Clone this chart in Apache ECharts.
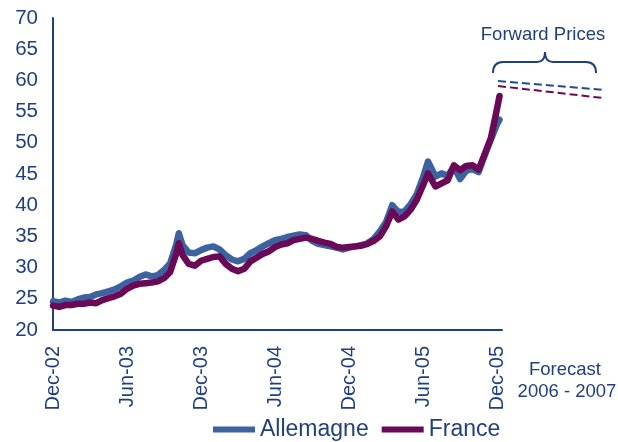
<!DOCTYPE html>
<html><head><meta charset="utf-8">
<script src="https://cdn.jsdelivr.net/npm/echarts@6/dist/echarts.min.js"></script>
<style>html,body{margin:0;padding:0;background:#fff}#c{width:618px;height:442px}</style>
</head><body><div id="c"></div>
<script>
// months since Dec-02
const months = [0,0.5,1,1.5,2,2.5,3,3.5,4,4.5,5,5.5,6,6.5,7,7.5,8,8.5,9,9.5,10,10.2,
  10.5,11,11.5,12,12.5,13,13.5,14,14.5,15,15.5,16,16.5,17,17.5,18,18.5,19,19.5,20,
  20.5,21,21.5,22,22.5,23,23.5,24,24.5,25,25.5,26,26.5,27,27.5,28,28.5,29,29.5,30,30.4,
  31,31.5,32,32.5,33,33.5,34,34.5,35,35.5,36,36.2];
const allemagne = [24.6,24.4,24.7,24.5,24.9,25.2,25.3,25.7,25.9,26.2,26.5,27.0,27.6,27.9,28.5,28.9,28.6,28.8,29.6,30.7,33.8,35.5,
  33.6,32.4,32.3,32.8,33.2,33.4,32.9,32.0,31.3,31.0,
  31.4,32.3,32.8,33.4,33.9,34.4,34.6,34.9,35.1,35.3,
  35.2,34.3,33.8,33.6,33.4,33.2,32.9,33.2,33.4,33.6,
  33.9,34.6,35.8,37.3,40.0,38.9,39.0,40.2,41.8,44.5,47.0,
  44.6,45.1,44.7,46.2,44.2,45.5,45.8,45.3,48.0,50.5,53.0,53.7];
const france = [23.9,23.7,24.0,24.0,24.2,24.2,24.4,24.3,24.8,25.1,25.4,25.8,26.6,27.1,27.4,27.5,27.6,27.8,28.3,29.3,32.3,33.9,
  32.0,30.6,30.3,31.1,31.4,31.7,31.8,30.6,29.8,29.4,
  29.8,31.0,31.6,32.2,32.6,33.3,33.7,33.9,34.4,34.6,
  34.8,34.6,34.3,34.0,33.8,33.3,33.2,33.3,33.4,33.5,
  33.8,34.3,35.0,36.6,39.0,37.7,38.2,39.3,40.9,43.2,45.1,
  43.0,43.5,44.0,46.4,45.6,46.3,46.4,45.7,48.2,50.8,55.5,57.5];
const tickLabels = ['Dec-02','Jun-03','Dec-03','Jun-04','Dec-04','Jun-05','Dec-05'];
const forwardSteps = [0, 1];
const forwardAllemagne = [59.9, 58.5];
const forwardFrance = [59.1, 57.2];

const TXT = '#1F3F7F';
const BLUE = '#3D62A0';
const PURPLE = '#6A0A57';
const FONT = 'Liberation Sans, Arial, sans-serif';

const pairs = (xs, ys) => xs.map((x, i) => [x, ys[i]]);
const braceStyle = {stroke: TXT, lineWidth: 2, fill: null};
const bez = (x1, y1, cx, cy, x2, y2) => ({type: 'bezierCurve', shape: {x1, y1, x2, y2, cpx1: cx, cpy1: cy}, style: braceStyle});
const seg = (x1, y1, x2, y2) => ({type: 'line', shape: {x1, y1, x2, y2}, style: braceStyle});

const chart = echarts.init(document.getElementById('c'), null, {renderer: 'canvas'});
chart.setOption({
  animation: false,
  backgroundColor: '#fff',
  textStyle: {fontFamily: FONT},
  grid: [
    {left: 53, right: 116, top: 18, bottom: 112, containLabel: false},
    {left: 498, right: 16, top: 18, bottom: 112, containLabel: false}
  ],
  xAxis: [
    {type: 'value', gridIndex: 0, min: 0, max: 36.4, interval: 6,
     axisLine: {lineStyle: {color: TXT, width: 2}},
     axisTick: {show: false}, splitLine: {show: false},
     axisLabel: {rotate: 90, margin: 16, color: TXT, fontSize: 20, fontFamily: FONT,
       showMaxLabel: false,
       formatter: v => (v % 6 === 0 && tickLabels[v / 6]) ? tickLabels[v / 6] : ''}},
    {type: 'value', gridIndex: 1, min: 0, max: 1, show: false}
  ],
  yAxis: [
    {type: 'value', gridIndex: 0, min: 20, max: 70, interval: 5,
     axisLine: {show: true, lineStyle: {color: TXT, width: 2}},
     axisTick: {show: false}, splitLine: {show: false},
     axisLabel: {color: TXT, fontSize: 20.5, margin: 15, fontFamily: FONT}},
    {type: 'value', gridIndex: 1, min: 20, max: 70, show: false}
  ],
  legend: {
    data: ['Allemagne', 'France'],
    left: 213, top: 418, padding: 0,
    icon: 'rect', itemWidth: 42, itemHeight: 6, itemGap: 13,
    textStyle: {color: TXT, fontSize: 23, fontFamily: FONT}
  },
  series: [
    {name: 'Allemagne', type: 'line', xAxisIndex: 0, yAxisIndex: 0,
     data: pairs(months, allemagne), showSymbol: false, smooth: false,
     color: BLUE, lineStyle: {width: 6.5, color: BLUE, cap: 'round', join: 'round'}},
    {name: 'France', type: 'line', xAxisIndex: 0, yAxisIndex: 0,
     data: pairs(months, france), showSymbol: false, smooth: false,
     color: PURPLE, lineStyle: {width: 6.5, color: PURPLE, cap: 'round', join: 'round'}},
    {name: 'Forward Allemagne', type: 'line', xAxisIndex: 1, yAxisIndex: 1,
     data: pairs(forwardSteps, forwardAllemagne), showSymbol: false,
     lineStyle: {width: 2, color: '#1F4E8C', type: [8, 4]}},
    {name: 'Forward France', type: 'line', xAxisIndex: 1, yAxisIndex: 1,
     data: pairs(forwardSteps, forwardFrance), showSymbol: false,
     lineStyle: {width: 2, color: PURPLE, type: [8, 4]}}
  ],
  graphic: [
    bez(493, 73, 493, 62, 503, 62),
    seg(503, 62, 537, 62),
    bez(537, 62, 545, 62, 545, 52),
    bez(545, 52, 545, 62, 553, 62),
    seg(553, 62, 586, 62),
    bez(586, 62, 596, 62, 596, 73),
    {type: 'text', x: 543, y: 35, style: {text: 'Forward Prices', fill: TXT, font: '18.5px ' + FONT, textAlign: 'center', textVerticalAlign: 'middle'}},
    {type: 'text', x: 565, y: 370, style: {text: 'Forecast', fill: TXT, font: '18.5px ' + FONT, textAlign: 'center', textVerticalAlign: 'middle'}},
    {type: 'text', x: 567, y: 392, style: {text: '2006 - 2007', fill: TXT, font: '18.5px ' + FONT, textAlign: 'center', textVerticalAlign: 'middle'}}
  ]
});
</script>
</body></html>
